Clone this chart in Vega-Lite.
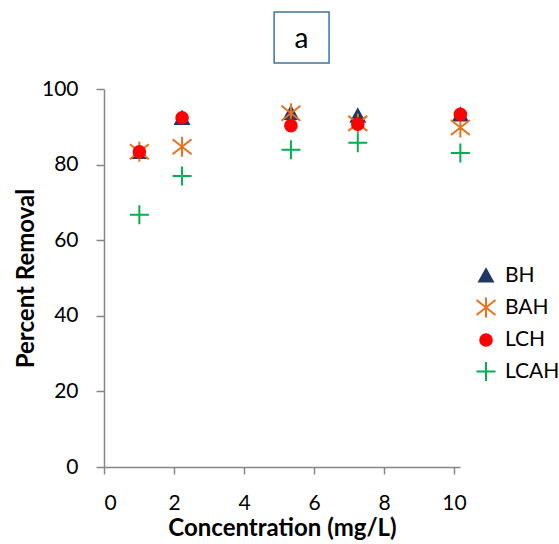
{
  "$schema": "https://vega.github.io/schema/vega-lite/v6.json",
  "width": 356,
  "height": 378,
  "autosize": {"type": "none"},
  "padding": {"left": 104, "top": 89, "right": 99, "bottom": 77},
  "config": {"view": {"stroke": null}, "font": "Lato"},
  "layer": [
    {
      "data": {
        "values": [
          {"series": "BH", "conc": 1.01, "removal": 83.2},
          {"series": "BH", "conc": 2.23, "removal": 92.2},
          {"series": "BH", "conc": 5.34, "removal": 93.5},
          {"series": "BH", "conc": 7.25, "removal": 92.8},
          {"series": "BH", "conc": 10.18, "removal": 93.1},
          {"series": "BAH", "conc": 1.01, "removal": 83.4},
          {"series": "BAH", "conc": 2.23, "removal": 84.7},
          {"series": "BAH", "conc": 5.34, "removal": 93.6},
          {"series": "BAH", "conc": 7.25, "removal": 90.9},
          {"series": "BAH", "conc": 10.18, "removal": 89.8},
          {"series": "LCH", "conc": 1.01, "removal": 83.4},
          {"series": "LCH", "conc": 2.23, "removal": 92.4},
          {"series": "LCH", "conc": 5.34, "removal": 90.3},
          {"series": "LCH", "conc": 7.25, "removal": 90.7},
          {"series": "LCH", "conc": 10.18, "removal": 93.3},
          {"series": "LCAH", "conc": 1.01, "removal": 66.7},
          {"series": "LCAH", "conc": 2.23, "removal": 77.0},
          {"series": "LCAH", "conc": 5.34, "removal": 83.9},
          {"series": "LCAH", "conc": 7.25, "removal": 85.8},
          {"series": "LCAH", "conc": 10.18, "removal": 83.1}
        ]
      },
      "mark": {"type": "point", "strokeWidth": 2, "opacity": 1, "size": 400},
      "encoding": {
        "x": {
          "field": "conc", "type": "quantitative",
          "scale": {"domain": [0, 10.17], "nice": false, "zero": false},
          "axis": {
            "values": [0, 1, 2, 3, 4, 5, 6, 7, 8, 9, 10],
            "labelExpr": "datum.value % 2 == 0 ? datum.label : ''",
            "grid": false,
            "domainColor": "#868686", "domainWidth": 1.5,
            "tickColor": "#868686", "tickWidth": 1.5, "tickSize": 7,
            "labelFontSize": 21, "labelColor": "#000000", "labelPadding": 18, "labelFont": "Lato",
            "title": "Concentration (mg/L)", "titleFontSize": 24, "titleFontWeight": "bold",
            "titleColor": "#000000", "titlePadding": 3, "titleFont": "Lato"
          }
        },
        "y": {
          "field": "removal", "type": "quantitative",
          "scale": {"domain": [0, 100], "nice": false},
          "axis": {
            "values": [0, 10, 20, 30, 40, 50, 60, 70, 80, 90, 100],
            "labelExpr": "datum.value % 20 == 0 ? datum.label : ''",
            "grid": false,
            "domainColor": "#868686", "domainWidth": 1.5,
            "tickColor": "#868686", "tickWidth": 1.5, "tickSize": 8,
            "labelFontSize": 21, "labelColor": "#000000", "labelPadding": 18, "labelFont": "Lato",
            "title": "Percent Removal", "titleFontSize": 24, "titleFontWeight": "bold",
            "titleColor": "#000000", "titlePadding": 3, "titleFont": "Lato"
          }
        },
        "shape": {
          "field": "series", "type": "nominal",
          "scale": {
            "domain": ["BH", "BAH", "LCH", "LCAH"],
            "range": [
              "M0,-0.68L0.68,0.55L-0.68,0.55Z",
              "M-0.95,-0.75L0.95,0.75M-0.95,0.75L0.95,-0.75M0,-1L0,1",
              "M-0.58,0A0.58,0.58,0,1,1,0.58,0A0.58,0.58,0,1,1,-0.58,0Z",
              "M-0.95,0L0.95,0M0,-0.95L0,0.95"
            ]
          },
          "legend": {
            "title": null, "orient": "none", "legendX": 371, "legendY": 176,
            "padding": 0, "symbolSize": 400, "symbolStrokeWidth": 2,
            "labelFontSize": 21, "labelFont": "Lato", "labelColor": "#000000",
            "labelOffset": 8, "rowPadding": 7.5
          }
        },
        "stroke": {
          "field": "series", "type": "nominal",
          "scale": {"domain": ["BH", "BAH", "LCH", "LCAH"], "range": ["#1F3864", "#E8711C", "#FF0000", "#00B050"]},
          "legend": {"title": null}
        },
        "fill": {
          "field": "series", "type": "nominal",
          "scale": {"domain": ["BH", "BAH", "LCH", "LCAH"], "range": ["#1F3864", "transparent", "#FF0000", "transparent"]},
          "legend": {"title": null}
        }
      }
    },
    {
      "data": {"values": [{"label": "a"}]},
      "mark": {"type": "rect", "fill": "white", "stroke": "#41719C", "strokeWidth": 1.5},
      "encoding": {
        "x": {"datum": 4.86, "type": "quantitative"},
        "x2": {"datum": 6.43},
        "y": {"datum": 106.9, "type": "quantitative"},
        "y2": {"datum": 120.4}
      }
    },
    {
      "data": {"values": [{"label": "a"}]},
      "mark": {"type": "text", "fontSize": 28, "font": "Lato", "color": "#000000", "baseline": "middle", "align": "center"},
      "encoding": {
        "x": {"datum": 5.64, "type": "quantitative"},
        "y": {"datum": 113.0, "type": "quantitative"},
        "text": {"field": "label"}
      }
    }
  ]
}
